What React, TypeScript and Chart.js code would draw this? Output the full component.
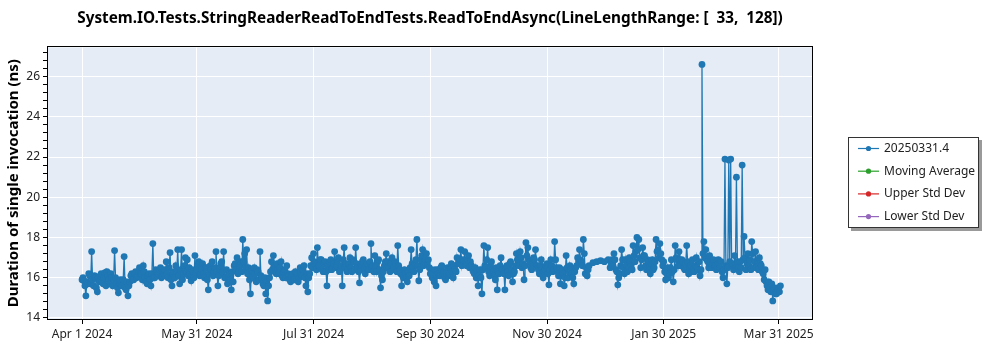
import React, { useEffect, useRef } from 'react';
import { Chart, registerables } from 'chart.js';

Chart.register(...registerables);

const FONT = 'Noto Sans';

const TITLE = 'System.IO.Tests.StringReaderReadToEndTests.ReadToEndAsync(LineLengthRange: [  33,  128])';
const Y_TITLE = 'Duration of single invocation (ns)';

const SERIES_LABELS = ['20250331.4', 'Moving Average', 'Upper Std Dev', 'Lower Std Dev'];
const SERIES_COLORS = ['#1f77b4', '#2ca02c', '#d62728', '#9467bd'];

// x positions are days since Apr 1 2024
const X_TICK_DAYS = [0, 60, 121, 182, 243, 304, 364];
const X_TICK_LABELS = ['Apr 1 2024', 'May 31 2024', 'Jul 31 2024', 'Sep 30 2024', 'Nov 30 2024', 'Jan 30 2025', 'Mar 31 2025'];
const X_MIN = -17.8;
const X_MAX = 381.5;

const Y_MIN = 13.95;
const Y_MAX = 27.45;
const Y_MAJOR_LABELS = [14, 16, 18, 20, 22, 24, 26];

// first run of each day, starting Apr 1 2024 (null = no run)
const DAILY_VALUES: (number | null)[] = [
  15.9, 15.85, 15.1, 15.7, 16.1, 17.3, 15.6, 16.0, 15.3, 15.8,
  16.2, 15.7, 16.25, 16.3, 15.9, 16.2, 15.6, 17.35, 15.7, 15.25,
  15.9, 15.6, 17.05, 15.4, 15.1, 15.8, 16.2, 15.9, 16.3, 16.1,
  16.5, 16.2, 16.6, 16.0, 15.7, 16.2, 15.6, 17.7, 16.0, 16.3,
  16.2, 16.5, 16.1, 16.4, 16.8, 16.0, 17.25, 15.6, 16.3, 16.6,
  17.4, 15.7, 17.4, 16.2, 17.0, 16.9, 16.5, 15.85, 16.3, 17.1,
  16.4, 16.8, 16.2, 16.7, 16.0, 16.5, 15.4, 16.6, 16.8, 16.3,
  17.3, 15.6, 16.5, 16.8, 17.3, 16.0, 15.7, 16.2, 15.4, 15.8,
  16.7, 17.0, 16.3, 16.8, 17.9, 17.2, 17.4, 16.5, 15.2, 16.2,
  16.5, 15.8, 16.3, 17.3, 16.0, 15.6, 15.2, 14.85, 16.0, 16.8,
  17.1, 16.5, 16.7, 16.2, 16.8, 16.0, 16.4, 16.6, 16.1, 15.8,
  16.2, 15.9, 16.0, 15.8, 16.5, 16.1, 16.6, 15.6, 15.3, 16.2,
  17.0, 17.2, 16.7, 17.5, 16.6, 16.9, 16.3, 16.8, 15.6, 16.4,
  16.9, 16.5, 17.3, 16.6, 17.0, 16.4, 15.6, 17.5, 16.7, 16.4,
  17.0, 16.3, 16.8, 17.5, 16.5, 15.75, 16.6, 16.9, 16.2, 16.7,
  16.4, 17.7, 16.6, 17.1, 16.3, 16.9, 15.5, 15.9, 16.6, 17.2,
  16.8, 16.3, 17.0, 16.5, 16.7, 17.6, 16.4, 15.6, 16.0, 16.2,
  15.8, 16.1, 17.4, 16.5, 16.7, 17.9, 15.85, 16.9, 17.4, 16.8,
  17.2, 16.9, 16.2, 16.0, 15.8, 15.6, 16.4, 16.1, 16.6, 16.3,
  15.9, 16.5, 16.2, 16.7, 16.0, 16.4, 17.0, 16.8, 17.4, 16.9,
  17.3, 16.6, 17.1, 16.8, 16.5, 16.2, 16.0, 15.6, 16.4, 15.2,
  17.6, 16.5, 17.5, 16.1, 16.8, 16.3, 15.9, 15.4, 16.2, 17.0,
  16.4, 15.4, 16.6, 16.1, 16.8, 15.8, 16.3, 17.2, 16.9, 17.3,
  16.5, 15.9, 17.75, 17.5, 16.8, 16.4, 17.0, 17.4, 16.6, 16.2,
  16.9, 16.0, 16.4, 16.7, 15.65, 16.9, 16.3, 17.8, 16.5, 16.1,
  15.7, 16.4, 15.6, 17.1, 16.0, 16.6, 16.2, 15.7, 16.5, 17.0,
  17.4, 16.8, 17.9, 16.2, 16.1, 16.6, null, 16.75, null, 16.8,
  null, 16.85, null, 16.8, null, 16.9, 16.5, 16.9, 17.2, 16.4,
  15.65, 16.2, 17.4, 16.5, 16.9, 16.3, 17.0, 16.6, 17.6, 16.8,
  18.0, 17.9, 16.5, 17.5, 17.1, 16.4, 16.8, 16.2, 16.9, 16.5,
  17.9, 17.4, 17.7, 16.9, 16.8, 15.9, 16.5, 16.2, 16.9, 15.8,
  17.6, 16.9, 17.3, 16.6, 16.8, 16.4, 17.6, 16.2, 16.6, 16.9,
  16.3, 17.0, 16.4, 16.1, 26.6, 17.8, 17.4, 16.8, 17.1, 16.5,
  16.9, 16.6, 16.5, 16.7, 16.8, 16.0, 21.9, 15.7, 21.85, 21.9,
  16.7, 17.1, 21.0, 16.5, 16.8, 21.6, 18.05, 16.4, 17.2, 16.9,
  17.8, 16.5, 17.3, 16.8, 17.0, 16.6, 16.2, 16.4, 15.6, 15.8,
  15.3, 14.85, 15.5, 15.2, 15.4, 15.6,
];

// second run of each day, half a day later (null = no second run)
const MID_DAY_VALUES: (number | null)[] = [
  16.0, 15.6, 15.8, 16.2, 15.7, 15.9, 16.1, 15.5, 16.0, 16.1,
  15.8, 16.0, 15.6, 16.1, 15.7, 16.0, 15.9, 16.0, 15.5, 15.7,
  15.6, 15.9, 15.5, 15.8, 15.6, 16.1, 15.9, 16.2, 16.0, 16.3,
  16.2, 15.9, 16.3, 15.8, 16.1, 15.9, 16.2, 16.0, 16.4, 16.1,
  16.4, 16.0, 16.3, 16.1, 16.2, 16.5, 15.9, 16.2, 16.0, 16.3,
  16.1, 16.4, 15.9, 16.6, 16.3, 16.1, 16.2, 16.4, 16.0, 16.2,
  16.6, 16.1, 16.4, 16.2, 16.5, 15.9, 16.2, 16.4, 16.1, 16.5,
  16.3, 16.1, 16.7, 16.3, 16.0, 16.4, 16.1, 15.9, 16.3, 16.6,
  16.4, 16.2, 16.6, 16.3, 16.8, 16.5, 16.2, 15.9, 16.4, 16.0,
  16.2, 16.4, 15.9, 16.1, 15.7, 16.0, 15.8, 15.6, 16.3, 16.4,
  16.6, 16.2, 16.4, 16.5, 16.1, 16.3, 16.0, 16.2, 15.9, 16.1,
  15.9, 16.3, 16.2, 16.0, 16.3, 16.4, 16.0, 16.2, 16.0, 16.6,
  16.5, 16.8, 16.4, 16.6, 16.9, 16.4, 16.7, 16.3, 16.6, 16.8,
  16.4, 16.7, 16.5, 16.8, 16.3, 16.6, 16.9, 16.5, 16.3, 16.7,
  16.5, 16.9, 16.4, 16.7, 16.3, 16.4, 16.8, 16.5, 16.6, 16.4,
  16.8, 16.5, 16.3, 16.6, 16.8, 16.4, 16.1, 16.3, 16.8, 16.5,
  16.5, 16.7, 16.4, 16.8, 16.3, 16.6, 16.2, 16.1, 16.4, 16.0,
  16.3, 16.5, 16.7, 16.3, 16.9, 16.6, 16.4, 17.1, 16.6, 16.9,
  16.7, 16.5, 16.4, 16.2, 16.4, 16.1, 16.2, 16.5, 16.2, 16.0,
  16.3, 16.1, 16.5, 16.3, 16.6, 16.3, 16.7, 16.9, 16.6, 16.8,
  16.7, 16.9, 16.5, 16.6, 16.3, 16.5, 16.3, 16.1, 16.0, 16.4,
  16.6, 16.9, 16.3, 16.6, 16.4, 16.1, 16.5, 16.3, 16.6, 16.4,
  16.2, 16.5, 16.3, 16.7, 16.4, 16.2, 16.6, 16.9, 16.6, 17.0,
  16.7, 16.6, 17.1, 16.9, 16.5, 16.7, 16.9, 16.6, 16.4, 16.6,
  16.5, 16.3, 16.6, 16.2, 16.4, 16.6, 16.4, 16.9, 16.3, 16.5,
  16.1, 16.2, 16.0, 16.5, 16.3, 16.4, 16.0, 16.3, 16.6, 16.8,
  16.9, 16.6, 17.2, 16.5, 16.4, null, null, null, null, null,
  null, null, null, null, null, null, 16.7, 16.6, 16.9, 16.3,
  16.0, 16.6, 16.9, 16.2, 16.6, 16.5, 16.8, 16.4, 17.1, 17.3,
  17.4, 17.0, 16.9, 17.1, 16.6, 16.9, 16.5, 16.7, 16.4, 16.8,
  17.3, 17.0, 17.2, 16.6, 16.3, 16.2, 16.0, 16.5, 16.3, 16.4,
  17.0, 16.6, 16.9, 16.9, 16.5, 16.7, 16.8, 16.5, 16.3, 16.4,
  16.6, 16.5, 16.8, 16.4, 17.2, 17.0, 16.9, 16.5, 16.8, 16.7,
  16.6, 16.4, 16.9, 16.5, 16.3, 16.4, 16.6, 16.5, 16.8, 16.6,
  16.4, 16.6, 16.8, 16.3, 16.5, 16.9, 17.0, 16.7, 16.6, 16.4,
  17.2, 16.8, 16.5, 16.4, 16.7, 16.3, 15.9, 15.8, 15.4, 15.5,
  15.7, 15.4, 15.2, 15.5, 15.3,
];

const isMajor = (v: number) => Math.abs(v - Math.round(v)) < 1e-6 && Math.round(v) % 2 === 0;

const plotFramePlugin = {
  id: 'plotFrame',
  beforeDraw(chart: any) {
    const { ctx, chartArea: a } = chart;
    ctx.save();
    ctx.fillStyle = '#e5ecf6';
    ctx.fillRect(a.left, a.top, a.right - a.left, a.bottom - a.top);
    ctx.restore();
  },
  afterDraw(chart: any) {
    const { ctx, chartArea: a } = chart;
    ctx.save();
    ctx.strokeStyle = '#000';
    ctx.lineWidth = 1;
    ctx.strokeRect(Math.round(a.left) - 0.5, Math.round(a.top) - 0.5, Math.round(a.right - a.left) + 1, Math.round(a.bottom - a.top) + 1);
    ctx.restore();
  },
};

const boxLegendPlugin = {
  id: 'boxLegend',
  afterDraw(chart: any) {
    const { ctx } = chart;
    const x = 848, y = 137, w = 131, h = 91;
    ctx.save();
    ctx.fillStyle = '#9a9a9a';
    ctx.fillRect(x + 3, y + 3, w, h);
    ctx.fillStyle = '#ffffff';
    ctx.fillRect(x, y, w, h);
    ctx.strokeStyle = '#333';
    ctx.lineWidth = 1;
    ctx.strokeRect(x + 0.5, y + 0.5, w - 1, h - 1);
    chart.data.datasets.forEach((ds: any, i: number) => {
      const cy = y + 11.5 + i * 22.7;
      ctx.strokeStyle = ds.borderColor;
      ctx.lineWidth = 1.2;
      ctx.beginPath();
      ctx.moveTo(858, cy);
      ctx.lineTo(879, cy);
      ctx.stroke();
      ctx.fillStyle = ds.borderColor;
      ctx.beginPath();
      ctx.arc(868.5, cy, 2.6, 0, Math.PI * 2);
      ctx.fill();
      ctx.fillStyle = '#222';
      ctx.font = `12px "${FONT}"`;
      ctx.textBaseline = 'middle';
      ctx.textAlign = 'left';
      ctx.fillText(ds.label, 884, cy);
    });
    ctx.restore();
  },
};

export default function App() {
  const canvasRef = useRef<HTMLCanvasElement | null>(null);

  useEffect(() => {
    if (!canvasRef.current) return;
    const firstRuns = DAILY_VALUES.map((v, i) => ({ x: i, y: v }));
    const secondRuns = MID_DAY_VALUES.map((v, i) => ({ x: i + 0.5, y: v }));
    const mainPoints = firstRuns
      .concat(secondRuns)
      .filter((p) => p.y !== null)
      .sort((a, b) => a.x - b.x);

    const datasets = SERIES_LABELS.map((label, i) => ({
      label,
      data: i === 0 ? mainPoints : [],
      borderColor: SERIES_COLORS[i],
      backgroundColor: SERIES_COLORS[i],
      borderWidth: 1.3,
      pointRadius: 3.4,
      pointBorderWidth: 0,
      pointHoverRadius: 3.4,
      tension: 0,
    }));

    const chart = new Chart(canvasRef.current, {
      type: 'line',
      data: { datasets },
      options: {
        animation: false,
        responsive: true,
        maintainAspectRatio: false,
        layout: { padding: { left: 0, right: 188, top: 0, bottom: 0 } },
        plugins: {
          legend: { display: false },
          tooltip: { enabled: false },
          title: {
            display: true,
            text: TITLE,
            fullSize: false,
            color: '#000',
            font: { family: FONT, size: 15.3, weight: 'bold' },
            padding: { top: 9, bottom: 20 },
          },
        },
        scales: {
          x: {
            type: 'linear',
            min: X_MIN,
            max: X_MAX,
            afterBuildTicks: (axis: any) => {
              axis.ticks = X_TICK_DAYS.map((v) => ({ value: v }));
            },
            afterFit: (s: any) => {
              s.height = 31;
            },
            ticks: {
              autoSkip: false,
              maxRotation: 0,
              padding: 3,
              color: '#222',
              font: { family: FONT, size: 12 },
              callback: (_v: any, i: number) => X_TICK_LABELS[i],
            },
            grid: { color: '#ffffff', lineWidth: 1, tickColor: '#000', tickLength: 5 },
            border: { display: false },
          },
          y: {
            type: 'linear',
            min: Y_MIN,
            max: Y_MAX,
            afterBuildTicks: (axis: any) => {
              const t: { value: number }[] = [];
              for (let k = 35; k * 0.4 <= Y_MAX; k++) t.push({ value: Math.round(k * 4) / 10 });
              axis.ticks = t;
            },
            afterFit: (s: any) => {
              s.width = 48;
            },
            title: {
              display: true,
              text: Y_TITLE,
              color: '#000',
              font: { family: FONT, size: 15, weight: 'bold' },
              padding: { top: 5, bottom: 0 },
            },
            ticks: {
              autoSkip: false,
              padding: 3,
              color: '#222',
              font: { family: FONT, size: 12 },
              callback: (v: any) => {
                const n = Number(v);
                return isMajor(n) && Y_MAJOR_LABELS.includes(Math.round(n)) ? String(Math.round(n)) : '';
              },
            },
            grid: {
              color: (ctx: any) => (ctx.tick && isMajor(ctx.tick.value) ? '#ffffff' : 'rgba(0,0,0,0)'),
              lineWidth: 1,
              tickColor: '#000',
              tickLength: 5,
            },
            border: { display: false },
          },
        },
      },
      plugins: [plotFramePlugin, boxLegendPlugin],
    } as any);

    return () => chart.destroy();
  }, []);

  return (
    <div style={{ position: 'fixed', left: 0, top: 0, width: 1000, height: 350, background: '#fff' }}>
      <canvas ref={canvasRef} />
    </div>
  );
}
